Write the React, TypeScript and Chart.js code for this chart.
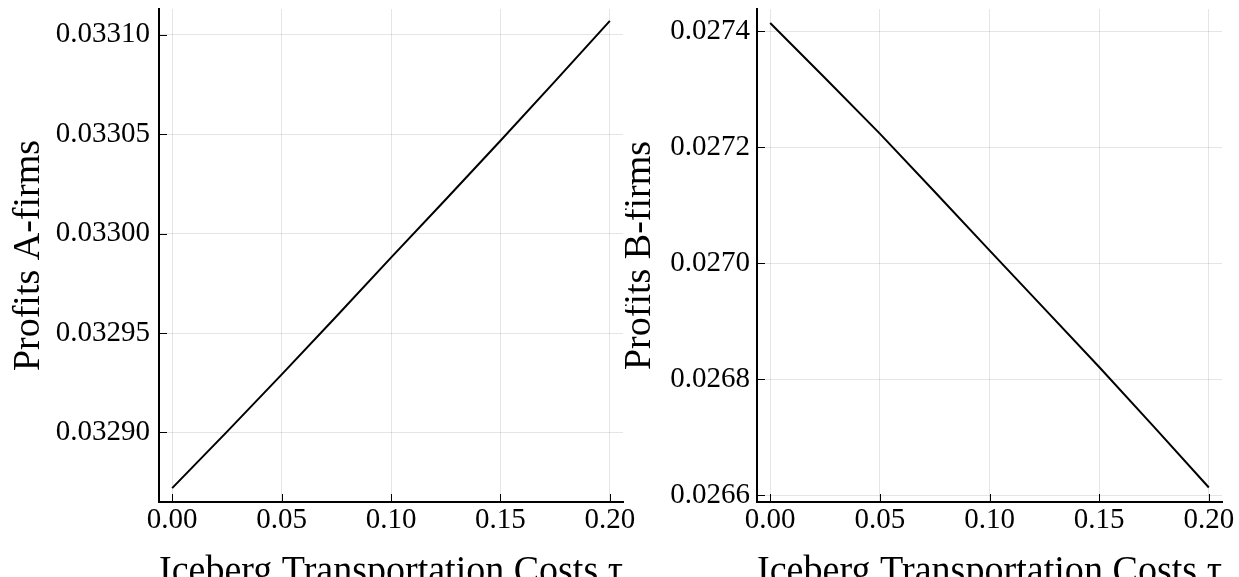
import React, { useEffect, useRef } from "react";
import { Chart, registerables } from "chart.js";
Chart.register(...registerables);

// ---- data ----
const tau = [0, 0.025, 0.05, 0.075, 0.1, 0.125, 0.15, 0.175, 0.2];
const profitsA = [0.032872, 0.0329003, 0.0329291, 0.0329583, 0.0329879, 0.0330172, 0.0330467, 0.0330767, 0.033107];
const profitsB = [0.027414, 0.0273189, 0.0272231, 0.027123, 0.0270219, 0.0269215, 0.0268207, 0.0267175, 0.026613];
const xTicks = [0, 0.05, 0.1, 0.15, 0.2];
const yTicksA = [0.0329, 0.03295, 0.033, 0.03305, 0.0331];
const yTicksB = [0.0266, 0.0268, 0.027, 0.0272, 0.0274];
const xLabel = "Iceberg Transportation Costs τ";
const yLabelA = "Profits A-firms";
const yLabelB = "Profits B-firms";

const FONT = "'Liberation Serif', 'Times New Roman', serif";

const innerTicks = {
  id: "innerTicks",
  afterDraw(chart: any) {
    const { ctx, chartArea, scales } = chart;
    ctx.save();
    ctx.strokeStyle = "#000";
    ctx.lineWidth = 1;
    const len = 8;
    const xs = scales.x;
    xs.ticks.forEach((t: any) => {
      const px = Math.round(xs.getPixelForValue(t.value)) + 0.5;
      ctx.beginPath();
      ctx.moveTo(px, chartArea.bottom);
      ctx.lineTo(px, chartArea.bottom - len);
      ctx.stroke();
    });
    const ys = scales.y;
    ys.ticks.forEach((t: any) => {
      const py = Math.round(ys.getPixelForValue(t.value)) + 0.5;
      ctx.beginPath();
      ctx.moveTo(chartArea.left, py);
      ctx.lineTo(chartArea.left + len, py);
      ctx.stroke();
    });
    ctx.restore();
  },
};

type PanelProps = {
  left: number;
  width: number;
  values: number[];
  yTicks: number[];
  yMin: number;
  yMax: number;
  yDecimals: number;
  yLabel: string;
  yAxisWidth: number;
  padRight: number;
  yTickPad: number;
  yTitlePad: number;
};

function Panel(p: PanelProps) {
  const ref = useRef<HTMLCanvasElement | null>(null);
  useEffect(() => {
    if (!ref.current) return;
    const chart = new Chart(ref.current, {
      type: "line",
      data: {
        datasets: [
          {
            data: tau.map((t, i) => ({ x: t, y: p.values[i] })),
            borderColor: "#000",
            borderWidth: 2,
            pointRadius: 0,
            fill: false,
            tension: 0,
          },
        ],
      },
      options: {
        animation: false,
        responsive: false,
        maintainAspectRatio: false,
        layout: { padding: { left: 0, top: 9, right: p.padRight, bottom: 0 } },
        plugins: { legend: { display: false }, tooltip: { enabled: false } },
        scales: {
          x: {
            type: "linear",
            min: -0.006,
            max: 0.206,
            afterBuildTicks: (s: any) => {
              s.ticks = xTicks.map((v) => ({ value: v }));
            },
            afterFit: (s: any) => {
              s.height = 75;
              s.paddingLeft = 0;
              s.paddingRight = 0;
            },
            grid: { color: "rgba(0,0,0,0.1)", lineWidth: 1, drawTicks: false },
            border: { display: true, color: "#000", width: 2 },
            ticks: {
              padding: 1,
              color: "#000",
              autoSkip: false,
              maxRotation: 0,
              font: { size: 29, family: FONT },
              callback: (v: any) => Number(v).toFixed(2),
            },
            title: {
              display: true,
              text: xLabel,
              color: "#000",
              font: { size: 39, family: FONT, lineHeight: 1 },
              padding: { top: 0, bottom: -15 },
            },
          },
          y: {
            type: "linear",
            min: p.yMin,
            max: p.yMax,
            afterBuildTicks: (s: any) => {
              s.ticks = p.yTicks.map((v) => ({ value: v }));
            },
            afterFit: (s: any) => {
              s.width = p.yAxisWidth;
              s.paddingTop = 0;
              s.paddingBottom = 0;
            },
            grid: { color: "rgba(0,0,0,0.1)", lineWidth: 1, drawTicks: false },
            border: { display: true, color: "#000", width: 2 },
            ticks: {
              padding: p.yTickPad,
              color: "#000",
              autoSkip: false,
              font: { size: 29, family: FONT },
              callback: (v: any) => Number(v).toFixed(p.yDecimals),
            },
            title: {
              display: true,
              text: p.yLabel,
              color: "#000",
              font: { size: 38, family: FONT, lineHeight: 1 },
              padding: { top: p.yTitlePad, bottom: 0 },
            },
          },
        },
      },
      plugins: [innerTicks],
    } as any);
    return () => chart.destroy();
  }, []);
  return (
    <canvas
      ref={ref}
      width={p.width}
      height={577}
      style={{ position: "absolute", left: p.left, top: 0, width: p.width, height: 577 }}
    />
  );
}

export default function App() {
  return (
    <div style={{ position: "fixed", left: 0, top: 0, width: 1239, height: 577, background: "#fff", overflow: "hidden" }}>
      <Panel
        left={0}
        width={650}
        values={profitsA}
        yTicks={yTicksA}
        yMin={0.032865}
        yMax={0.033113}
        yDecimals={5}
        yLabel={yLabelA}
        yAxisWidth={159}
        padRight={27}
        yTickPad={9}
        yTitlePad={10}
      />
      <Panel
        left={625}
        width={614}
        values={profitsB}
        yTicks={yTicksB}
        yMin={0.026588}
        yMax={0.027438}
        yDecimals={4}
        yLabel={yLabelB}
        yAxisWidth={132}
        padRight={17}
        yTickPad={7}
        yTitlePad={-4}
      />
    </div>
  );
}
